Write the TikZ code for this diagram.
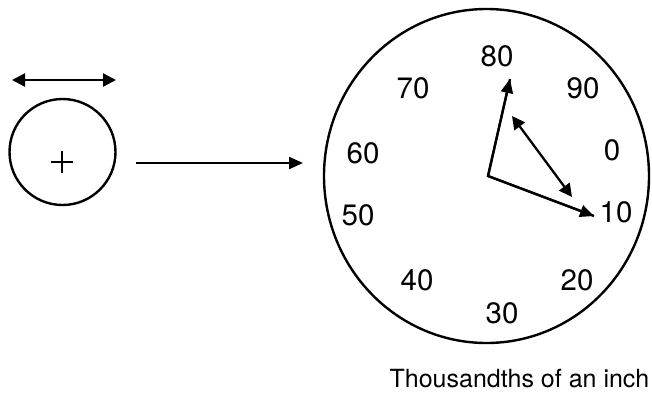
\documentclass[tikz,border=0pt]{standalone}
\usepackage{fontspec}
\setmainfont{TeX Gyre Heros}
\usetikzlibrary{arrows.meta,shapes.geometric}
\begin{document}
\begin{tikzpicture}[x=1pt,y=-1pt,
  outline/.style={draw=black,line width=2.4pt},
  hand/.style={line width=2.3pt,-{Triangle[length=14pt,width=12pt]}},
  twohead/.style={line width=2.3pt,{Triangle[length=13pt,width=13pt]}-{Triangle[length=13pt,width=13pt]}},
  digit/.style={font=\fontsize{29.5}{30}\selectfont,inner sep=0pt},
  caption/.style={font=\fontsize{25}{25}\selectfont,inner sep=0pt}]
\useasboundingbox (0,0) rectangle (652,394);

% small wire circle with its centre mark
\node[circle,outline,minimum size=106pt,inner sep=0pt] (wire) at (62.5,152) {};
\coordinate (mark) at (62,162);
\draw[line width=1.5pt] ([xshift=-11pt]mark) -- ([xshift=11pt]mark)
                        ([yshift=-11pt]mark) -- ([yshift=11pt]mark);

% width arrow above the wire
\coordinate (wl) at (12,80);
\coordinate (wr) at (116,80);
\draw[twohead] (wl) -- (wr);

% arrow towards the dial
\coordinate (aS) at (136,163);
\coordinate (aE) at (303,163);
\draw[hand] (aS) -- (aE);

% dial gauge face
\node[ellipse,outline,minimum width=325pt,minimum height=334pt,inner sep=0pt] (dial) at (486.5,176) {};

% graduations
\node[digit] (n80) at (497,56) {80};
\node[digit] (n90) at (583,88) {90};
\node[digit] (n0)  at (612,150) {0};
\node[digit] (n10) at (616,212) {10};
\node[digit] (n20) at (577,280) {20};
\node[digit] (n30) at (502,313) {30};
\node[digit] (n40) at (417,280) {40};
\node[digit] (n50) at (358,215) {50};
\node[digit] (n60) at (363,153) {60};
\node[digit] (n70) at (413,88) {70};

% pointers
\coordinate (hub) at (488,176);
\coordinate (tipA) at (510,79);
\coordinate (tipB) at (594,216);
\draw[line width=2.3pt,line join=miter] (tipA) -- (hub) -- (tipB);
\draw[hand] (hub) -- (tipA);
\draw[hand] (hub) -- (tipB);

% swept range
\coordinate (rA) at (512,116);
\coordinate (rB) at (572,197);
\draw[twohead] (rA) -- (rB);

\node[caption] (cap) at (519.5,379) {Thousandths of an inch};
\end{tikzpicture}
\end{document}
